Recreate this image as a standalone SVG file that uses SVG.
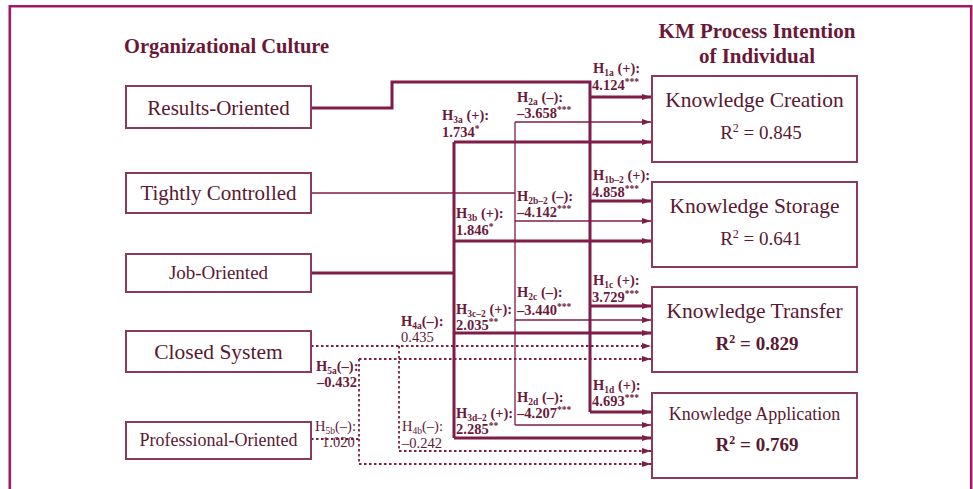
<svg xmlns="http://www.w3.org/2000/svg" width="973" height="489" viewBox="0 0 973 489">
<defs>
<style>
.frame{fill:none;stroke:#9e1a62;stroke-width:2.6}
.box{fill:#fff;stroke:#8a3a5c;stroke-width:2}
.bt{font-family:"Liberation Serif","Times New Roman",serif;fill:#5a1832;text-anchor:middle}
.hd{font-family:"Liberation Serif","Times New Roman",serif;font-weight:bold;fill:#6a1838;font-size:20.5px}
.lb{font-family:"Liberation Serif","Times New Roman",serif;font-weight:bold;fill:#6a1a3c;font-size:14.5px}
.nw{font-weight:normal;fill:#5e1a36}
.thick{fill:none;stroke:#7e1d48;stroke-width:3}
.thin{fill:none;stroke:#7e1d48;stroke-width:1.3}
.dot{fill:none;stroke:#7e1d48;stroke-width:1.8;stroke-dasharray:2.5 2.5}
.s{font-size:9.5px}
</style>
<marker id="ah" markerUnits="userSpaceOnUse" markerWidth="9" markerHeight="7" refX="9" refY="3.5" orient="auto">
<path d="M0,0.5 L9,3.5 L0,6.5 z" fill="#7e1d48"/>
</marker>
</defs>
<rect width="973" height="489" fill="#fff"/>
<path class="frame" d="M9.8,489 V6.3 H971.2 V489"/>

<text class="hd" x="124" y="53">Organizational Culture</text>
<text class="hd" x="757" y="38" text-anchor="middle" style="font-size:21px">KM Process Intention</text>
<text class="hd" x="757" y="63" text-anchor="middle" style="font-size:21px">of Individual</text>

<g id="connectors">
<path class="thick" d="M311,108 H392 V82 H590 V412"/>
<path class="thick" d="M590,97 H651" marker-end="url(#ah)"/>
<path class="thick" d="M590,201 H651" marker-end="url(#ah)"/>
<path class="thick" d="M590,306 H651" marker-end="url(#ah)"/>
<path class="thick" d="M590,412 H651" marker-end="url(#ah)"/>

<path class="thin" d="M311,193 H515"/>
<path class="thin" d="M515,122 V425"/>
<path class="thin" d="M515,122 H651" marker-end="url(#ah)"/>
<path class="thin" d="M515,221 H651" marker-end="url(#ah)"/>
<path class="thin" d="M515,320 H651" marker-end="url(#ah)"/>
<path class="thin" d="M515,425 H651" marker-end="url(#ah)"/>

<path class="thick" d="M311,273 H454"/>
<path class="thick" d="M454,142 V438"/>
<path class="thick" d="M454,142 H651" marker-end="url(#ah)"/>
<path class="thick" d="M454,241 H651" marker-end="url(#ah)"/>
<path class="thick" d="M454,333 H651" marker-end="url(#ah)"/>
<path class="thick" d="M454,438 H651" marker-end="url(#ah)"/>

<path class="dot" d="M311,346 H651" marker-end="url(#ah)"/>
<path class="dot" d="M399,346 V451 H651" marker-end="url(#ah)"/>

<path class="dot" d="M311,439 H359"/>
<path class="dot" d="M359,359 V464"/>
<path class="dot" d="M359,359 H651" marker-end="url(#ah)"/>
<path class="dot" d="M359,464 H651" marker-end="url(#ah)"/>
</g>

<g id="labels">
<text class="lb" x="593" y="73">H<tspan class="s" dy="2.5">1a</tspan><tspan dy="-2.5"> (+):</tspan></text>
<text class="lb" x="592" y="90">4.124<tspan class="s" dy="-5">***</tspan></text>
<text class="lb" x="517" y="102">H<tspan class="s" dy="2.5">2a</tspan><tspan dy="-2.5"> (–):</tspan></text>
<text class="lb" x="517" y="118">–3.658<tspan class="s" dy="-5">***</tspan></text>
<text class="lb" x="442" y="120">H<tspan class="s" dy="2.5">3a</tspan><tspan dy="-2.5"> (+):</tspan></text>
<text class="lb" x="442" y="137">1.734<tspan class="s" dy="-5">*</tspan></text>

<text class="lb" x="593" y="180">H<tspan class="s" dy="2.5">1b–2</tspan><tspan dy="-2.5"> (+):</tspan></text>
<text class="lb" x="592" y="197">4.858<tspan class="s" dy="-5">***</tspan></text>
<text class="lb" x="517" y="201">H<tspan class="s" dy="2.5">2b–2</tspan><tspan dy="-2.5"> (–):</tspan></text>
<text class="lb" x="517" y="217">–4.142<tspan class="s" dy="-5">***</tspan></text>
<text class="lb" x="456" y="218">H<tspan class="s" dy="2.5">3b</tspan><tspan dy="-2.5"> (+):</tspan></text>
<text class="lb" x="456" y="235">1.846<tspan class="s" dy="-5">*</tspan></text>

<text class="lb" x="593" y="285">H<tspan class="s" dy="2.5">1c</tspan><tspan dy="-2.5"> (+):</tspan></text>
<text class="lb" x="592" y="302">3.729<tspan class="s" dy="-5">***</tspan></text>
<text class="lb" x="517" y="297">H<tspan class="s" dy="2.5">2c</tspan><tspan dy="-2.5"> (–):</tspan></text>
<text class="lb" x="517" y="315">–3.440<tspan class="s" dy="-5">***</tspan></text>
<text class="lb" x="456" y="314">H<tspan class="s" dy="2.5">3c–2</tspan><tspan dy="-2.5"> (+):</tspan></text>
<text class="lb" x="456" y="330">2.035<tspan class="s" dy="-5">**</tspan></text>
<text class="lb" x="401" y="326">H<tspan class="s" dy="2.5">4a</tspan><tspan dy="-2.5">(–):</tspan></text>
<text class="lb nw" x="401" y="342">0.435</text>

<text class="lb" x="316" y="371">H<tspan class="s" dy="2.5">5a</tspan><tspan dy="-2.5">(–):</tspan></text>
<text class="lb" x="317" y="387">–0.432</text>
<text class="lb" x="593" y="390">H<tspan class="s" dy="2.5">1d</tspan><tspan dy="-2.5"> (+):</tspan></text>
<text class="lb" x="592" y="406">4.693<tspan class="s" dy="-5">***</tspan></text>
<text class="lb" x="517" y="402">H<tspan class="s" dy="2.5">2d</tspan><tspan dy="-2.5"> (–):</tspan></text>
<text class="lb" x="517" y="418">–4.207<tspan class="s" dy="-5">***</tspan></text>
<text class="lb" x="456" y="418">H<tspan class="s" dy="2.5">3d–2</tspan><tspan dy="-2.5"> (+):</tspan></text>
<text class="lb" x="456" y="434">2.285<tspan class="s" dy="-5">**</tspan></text>
<text class="lb nw" x="315" y="431">H<tspan class="s" dy="2.5">5b</tspan><tspan dy="-2.5">(–):</tspan></text>
<text class="lb nw" x="322" y="447">1.020</text>
<text class="lb nw" x="402" y="431">H<tspan class="s" dy="2.5">4b</tspan><tspan dy="-2.5">(–):</tspan></text>
<text class="lb nw" x="402" y="448">–0.242</text>
</g>

<g id="results-oriented"><rect class="box" x="126" y="86" width="185" height="42"/><text class="bt" x="218.5" y="115" font-size="21">Results-Oriented</text></g>
<g id="tightly-controlled"><rect class="box" x="126" y="173" width="185" height="40"/><text class="bt" x="218.5" y="200" font-size="21">Tightly Controlled</text></g>
<g id="job-oriented"><rect class="box" x="126" y="254" width="185" height="38"/><text class="bt" x="218.5" y="279" font-size="19">Job-Oriented</text></g>
<g id="closed-system"><rect class="box" x="126" y="331" width="185" height="41"/><text class="bt" x="218.5" y="359" font-size="21.5">Closed System</text></g>
<g id="professional-oriented"><rect class="box" x="126" y="422" width="185" height="37"/><text class="bt" x="218.5" y="446" font-size="18">Professional-Oriented</text></g>

<g id="knowledge-creation"><rect class="box" x="652" y="76" width="205" height="86"/><text class="bt" x="754.5" y="107" font-size="21.5">Knowledge Creation</text><text class="bt" x="761" y="139" font-size="19">R<tspan font-size="12" dy="-7">2</tspan><tspan dy="7"> = 0.845</tspan></text></g>
<g id="knowledge-storage"><rect class="box" x="652" y="182" width="205" height="85"/><text class="bt" x="754.5" y="213" font-size="21.5">Knowledge Storage</text><text class="bt" x="761" y="245" font-size="19">R<tspan font-size="12" dy="-7">2</tspan><tspan dy="7"> = 0.641</tspan></text></g>
<g id="knowledge-transfer"><rect class="box" x="652" y="287" width="205" height="85"/><text class="bt" x="754.5" y="318" font-size="21.5">Knowledge Transfer</text><text class="bt" x="757" y="350" font-size="19" font-weight="bold">R<tspan font-size="12" dy="-7">2</tspan><tspan dy="7"> = 0.829</tspan></text></g>
<g id="knowledge-application"><rect class="box" x="652" y="393" width="205" height="85"/><text class="bt" x="754.5" y="420" font-size="18">Knowledge Application</text><text class="bt" x="757" y="451" font-size="19" font-weight="bold">R<tspan font-size="12" dy="-7">2</tspan><tspan dy="7"> = 0.769</tspan></text></g>
</svg>
